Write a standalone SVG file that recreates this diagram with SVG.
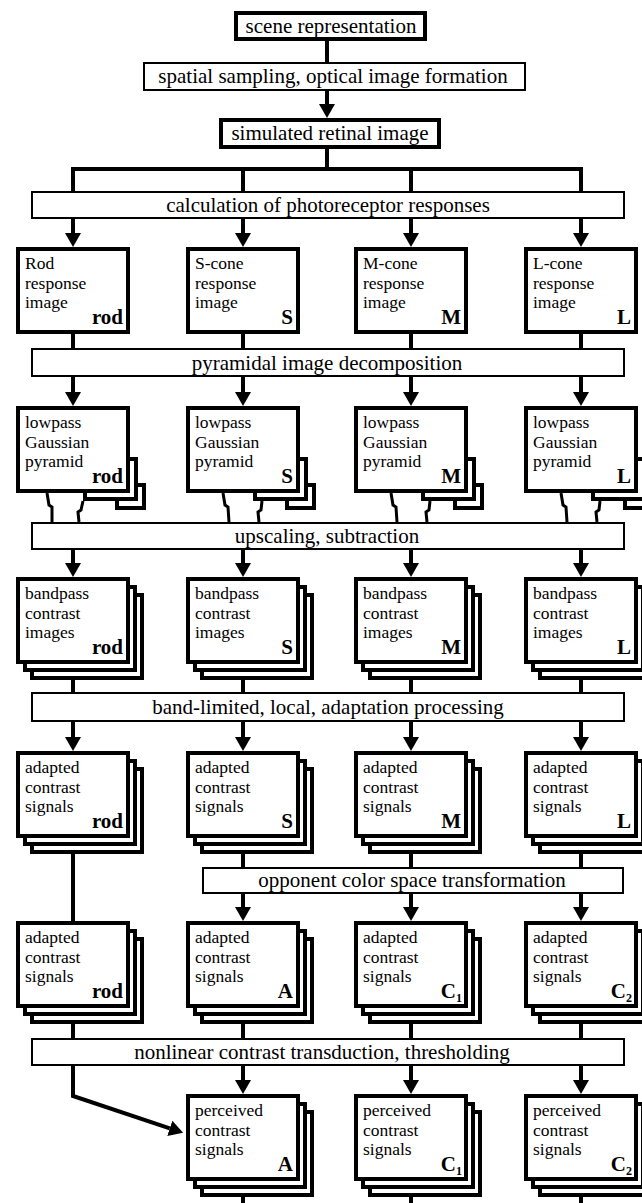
<svg xmlns="http://www.w3.org/2000/svg" width="642" height="1203" viewBox="0 0 642 1203">
<style>
.nb{fill:#fff;stroke:#000;stroke-width:4}
.pb{fill:#fff;stroke:#000;stroke-width:2}
.c{fill:none;stroke:#000;stroke-width:4}
.z{fill:none;stroke:#000;stroke-width:3}
.ar{marker-end:url(#ah)}
text{font-family:"Liberation Serif","Times New Roman",serif;fill:#000}
.t{font-size:17.5px}
.pt{font-size:21px;text-anchor:middle}
.lb{font-size:21px;font-weight:bold;text-anchor:end}
.sub{font-size:12px}
</style>
<defs>
<marker id="ah" markerUnits="userSpaceOnUse" markerWidth="14" markerHeight="16" viewBox="0 0 14 16" refX="0" refY="8" orient="auto"><path d="M0,0 L14,8 L0,16 z" fill="#000"/></marker>
</defs>
<rect x="0" y="0" width="642" height="1203" fill="#fff"/>
<g id="connectors">
<path class="c" d="M327,41 V62"/>
<path class="c ar" d="M327,91 V104"/>
<path class="c" d="M327,149 V169"/>
<path class="c" d="M73,191 V169 H581 V191 M243,169 V191 M411,169 V191"/>
<path class="c ar" d="M73,219 V233"/><path class="c ar" d="M243,219 V233"/><path class="c ar" d="M411,219 V233"/><path class="c ar" d="M581,219 V233"/>
<path class="c" d="M73,334 V348 M243,334 V348 M411,334 V348 M581,334 V348"/>
<path class="c ar" d="M73,377 V392"/><path class="c ar" d="M243,377 V392"/><path class="c ar" d="M411,377 V392"/><path class="c ar" d="M581,377 V392"/>
<path class="z" d="M47,493 L49,505 L52,507 L52,522 M83,501 L81,510 L78,512 L79,522"/>
<path class="z" d="M223,493 L225,505 L228,507 L229,522 M262,501 L261,510 L258,512 L259,522"/>
<path class="z" d="M391,493 L393,505 L396,507 L397,522 M430,501 L429,510 L426,512 L427,522"/>
<path class="z" d="M561,493 L563,505 L566,507 L567,522 M600,501 L599,510 L596,512 L597,522"/>
<path class="c ar" d="M73,550 V563"/><path class="c ar" d="M243,550 V563"/><path class="c ar" d="M411,550 V563"/><path class="c ar" d="M581,550 V563"/>
<path class="c" d="M73,680 V692 M243,680 V692 M411,680 V692 M581,680 V692"/>
<path class="c ar" d="M73,722 V737"/><path class="c ar" d="M243,722 V737"/><path class="c ar" d="M411,722 V737"/><path class="c ar" d="M581,722 V737"/>
<path class="c" d="M73,854 V921 M243,854 V867 M411,854 V867 M581,854 V867"/>
<path class="c ar" d="M243,894 V907"/><path class="c ar" d="M411,894 V907"/><path class="c ar" d="M581,894 V907"/>
<path class="c" d="M73,1024 V1038 M243,1024 V1038 M411,1024 V1038 M581,1024 V1038"/>
<path class="c ar" d="M243,1066 V1080"/><path class="c ar" d="M411,1066 V1080"/><path class="c ar" d="M581,1066 V1080"/>
<path class="c ar" d="M73,1066 V1096 L169.8,1128.3"/>
<path class="c" d="M243,1197 V1203 M411,1197 V1203 M581,1197 V1203"/>
</g>
<g id="scene"><rect class="nb" x="236" y="13" width="189" height="26"/><text class="pt" x="331" y="33">scene representation</text></g>
<g id="sampling"><rect class="pb" x="144" y="63" width="381" height="27"/><text class="pt" x="333" y="83">spatial sampling, optical image formation</text></g>
<g id="retinal"><rect class="nb" x="221" y="120" width="218" height="27"/><text class="pt" x="330" y="140">simulated retinal image</text></g>
<g id="photoreceptor"><rect class="pb" x="32" y="192" width="592" height="26"/><text class="pt" x="328" y="212">calculation of photoreceptor responses</text></g>

<g id="rod-response"><rect class="nb" x="18" y="249" width="110" height="83"/><text class="t" x="25" y="269">Rod<tspan x="25" dy="19.5">response</tspan><tspan x="25" dy="19.5">image</tspan><tspan class="lb" x="123" y="324">rod</tspan></text></g>
<g id="s-response"><rect class="nb" x="188" y="249" width="110" height="83"/><text class="t" x="195" y="269">S-cone<tspan x="195" dy="19.5">response</tspan><tspan x="195" dy="19.5">image</tspan><tspan class="lb" x="293" y="324">S</tspan></text></g>
<g id="m-response"><rect class="nb" x="356" y="249" width="110" height="83"/><text class="t" x="363" y="269">M-cone<tspan x="363" dy="19.5">response</tspan><tspan x="363" dy="19.5">image</tspan><tspan class="lb" x="461" y="324">M</tspan></text></g>
<g id="l-response"><rect class="nb" x="526" y="249" width="110" height="83"/><text class="t" x="533" y="269">L-cone<tspan x="533" dy="19.5">response</tspan><tspan x="533" dy="19.5">image</tspan><tspan class="lb" x="631" y="324">L</tspan></text></g>

<g id="pyramidal"><rect class="pb" x="32" y="349" width="592" height="27"/><text class="pt" x="327" y="370">pyramidal image decomposition</text></g>

<g id="rod-lowpass"><rect class="nb" x="117" y="485" width="27" height="23"/><rect class="nb" x="85" y="459" width="51" height="40"/><rect class="nb" x="18" y="408" width="110" height="83"/><text class="t" x="25" y="428">lowpass<tspan x="25" dy="19.5">Gaussian</tspan><tspan x="25" dy="19.5">pyramid</tspan><tspan class="lb" x="123" y="483">rod</tspan></text></g>
<g id="s-lowpass"><rect class="nb" x="287" y="485" width="27" height="23"/><rect class="nb" x="255" y="459" width="51" height="40"/><rect class="nb" x="188" y="408" width="110" height="83"/><text class="t" x="195" y="428">lowpass<tspan x="195" dy="19.5">Gaussian</tspan><tspan x="195" dy="19.5">pyramid</tspan><tspan class="lb" x="293" y="483">S</tspan></text></g>
<g id="m-lowpass"><rect class="nb" x="455" y="485" width="27" height="23"/><rect class="nb" x="423" y="459" width="51" height="40"/><rect class="nb" x="356" y="408" width="110" height="83"/><text class="t" x="363" y="428">lowpass<tspan x="363" dy="19.5">Gaussian</tspan><tspan x="363" dy="19.5">pyramid</tspan><tspan class="lb" x="461" y="483">M</tspan></text></g>
<g id="l-lowpass"><rect class="nb" x="625" y="485" width="27" height="23"/><rect class="nb" x="593" y="459" width="51" height="40"/><rect class="nb" x="526" y="408" width="110" height="83"/><text class="t" x="533" y="428">lowpass<tspan x="533" dy="19.5">Gaussian</tspan><tspan x="533" dy="19.5">pyramid</tspan><tspan class="lb" x="631" y="483">L</tspan></text></g>

<g id="upscaling"><rect class="pb" x="32" y="523" width="592" height="26"/><text class="pt" x="327" y="543">upscaling, subtraction</text></g>

<g id="rod-bandpass"><rect class="nb" x="32" y="595" width="110" height="83"/><rect class="nb" x="25" y="587" width="110" height="83"/><rect class="nb" x="18" y="579" width="110" height="83"/><text class="t" x="25" y="599">bandpass<tspan x="25" dy="19.5">contrast</tspan><tspan x="25" dy="19.5">images</tspan><tspan class="lb" x="123" y="654">rod</tspan></text></g>
<g id="s-bandpass"><rect class="nb" x="202" y="595" width="110" height="83"/><rect class="nb" x="195" y="587" width="110" height="83"/><rect class="nb" x="188" y="579" width="110" height="83"/><text class="t" x="195" y="599">bandpass<tspan x="195" dy="19.5">contrast</tspan><tspan x="195" dy="19.5">images</tspan><tspan class="lb" x="293" y="654">S</tspan></text></g>
<g id="m-bandpass"><rect class="nb" x="370" y="595" width="110" height="83"/><rect class="nb" x="363" y="587" width="110" height="83"/><rect class="nb" x="356" y="579" width="110" height="83"/><text class="t" x="363" y="599">bandpass<tspan x="363" dy="19.5">contrast</tspan><tspan x="363" dy="19.5">images</tspan><tspan class="lb" x="461" y="654">M</tspan></text></g>
<g id="l-bandpass"><rect class="nb" x="540" y="595" width="110" height="83"/><rect class="nb" x="533" y="587" width="110" height="83"/><rect class="nb" x="526" y="579" width="110" height="83"/><text class="t" x="533" y="599">bandpass<tspan x="533" dy="19.5">contrast</tspan><tspan x="533" dy="19.5">images</tspan><tspan class="lb" x="631" y="654">L</tspan></text></g>

<g id="adaptation"><rect class="pb" x="32" y="693" width="592" height="28"/><text class="pt" x="328" y="714">band-limited, local, adaptation processing</text></g>

<g id="rod-adapted"><rect class="nb" x="32" y="769" width="110" height="83"/><rect class="nb" x="25" y="761" width="110" height="83"/><rect class="nb" x="18" y="753" width="110" height="83"/><text class="t" x="25" y="773">adapted<tspan x="25" dy="19.5">contrast</tspan><tspan x="25" dy="19.5">signals</tspan><tspan class="lb" x="123" y="828">rod</tspan></text></g>
<g id="s-adapted"><rect class="nb" x="202" y="769" width="110" height="83"/><rect class="nb" x="195" y="761" width="110" height="83"/><rect class="nb" x="188" y="753" width="110" height="83"/><text class="t" x="195" y="773">adapted<tspan x="195" dy="19.5">contrast</tspan><tspan x="195" dy="19.5">signals</tspan><tspan class="lb" x="293" y="828">S</tspan></text></g>
<g id="m-adapted"><rect class="nb" x="370" y="769" width="110" height="83"/><rect class="nb" x="363" y="761" width="110" height="83"/><rect class="nb" x="356" y="753" width="110" height="83"/><text class="t" x="363" y="773">adapted<tspan x="363" dy="19.5">contrast</tspan><tspan x="363" dy="19.5">signals</tspan><tspan class="lb" x="461" y="828">M</tspan></text></g>
<g id="l-adapted"><rect class="nb" x="540" y="769" width="110" height="83"/><rect class="nb" x="533" y="761" width="110" height="83"/><rect class="nb" x="526" y="753" width="110" height="83"/><text class="t" x="533" y="773">adapted<tspan x="533" dy="19.5">contrast</tspan><tspan x="533" dy="19.5">signals</tspan><tspan class="lb" x="631" y="828">L</tspan></text></g>

<g id="opponent"><rect class="pb" x="203" y="868" width="420" height="25"/><text class="pt" x="412" y="887">opponent color space transformation</text></g>

<g id="rod-adapted2"><rect class="nb" x="32" y="939" width="110" height="83"/><rect class="nb" x="25" y="931" width="110" height="83"/><rect class="nb" x="18" y="923" width="110" height="83"/><text class="t" x="25" y="943">adapted<tspan x="25" dy="19.5">contrast</tspan><tspan x="25" dy="19.5">signals</tspan><tspan class="lb" x="123" y="998">rod</tspan></text></g>
<g id="a-adapted"><rect class="nb" x="202" y="939" width="110" height="83"/><rect class="nb" x="195" y="931" width="110" height="83"/><rect class="nb" x="188" y="923" width="110" height="83"/><text class="t" x="195" y="943">adapted<tspan x="195" dy="19.5">contrast</tspan><tspan x="195" dy="19.5">signals</tspan><tspan class="lb" x="293" y="998">A</tspan></text></g>
<g id="c1-adapted"><rect class="nb" x="370" y="939" width="110" height="83"/><rect class="nb" x="363" y="931" width="110" height="83"/><rect class="nb" x="356" y="923" width="110" height="83"/><text class="t" x="363" y="943">adapted<tspan x="363" dy="19.5">contrast</tspan><tspan x="363" dy="19.5">signals</tspan><tspan class="lb" x="462" y="998">C<tspan class="sub" dy="4">1</tspan></tspan></text></g>
<g id="c2-adapted"><rect class="nb" x="540" y="939" width="110" height="83"/><rect class="nb" x="533" y="931" width="110" height="83"/><rect class="nb" x="526" y="923" width="110" height="83"/><text class="t" x="533" y="943">adapted<tspan x="533" dy="19.5">contrast</tspan><tspan x="533" dy="19.5">signals</tspan><tspan class="lb" x="632" y="998">C<tspan class="sub" dy="4">2</tspan></tspan></text></g>

<g id="transduction"><rect class="pb" x="32" y="1039" width="592" height="26"/><text class="pt" x="322" y="1059">nonlinear contrast transduction, thresholding</text></g>

<g id="a-perceived"><rect class="nb" x="202" y="1112" width="110" height="83"/><rect class="nb" x="195" y="1104" width="110" height="83"/><rect class="nb" x="188" y="1096" width="110" height="83"/><text class="t" x="195" y="1116">perceived<tspan x="195" dy="19.5">contrast</tspan><tspan x="195" dy="19.5">signals</tspan><tspan class="lb" x="293" y="1171">A</tspan></text></g>
<g id="c1-perceived"><rect class="nb" x="370" y="1112" width="110" height="83"/><rect class="nb" x="363" y="1104" width="110" height="83"/><rect class="nb" x="356" y="1096" width="110" height="83"/><text class="t" x="363" y="1116">perceived<tspan x="363" dy="19.5">contrast</tspan><tspan x="363" dy="19.5">signals</tspan><tspan class="lb" x="462" y="1171">C<tspan class="sub" dy="4">1</tspan></tspan></text></g>
<g id="c2-perceived"><rect class="nb" x="540" y="1112" width="110" height="83"/><rect class="nb" x="533" y="1104" width="110" height="83"/><rect class="nb" x="526" y="1096" width="110" height="83"/><text class="t" x="533" y="1116">perceived<tspan x="533" dy="19.5">contrast</tspan><tspan x="533" dy="19.5">signals</tspan><tspan class="lb" x="632" y="1171">C<tspan class="sub" dy="4">2</tspan></tspan></text></g>
</svg>
